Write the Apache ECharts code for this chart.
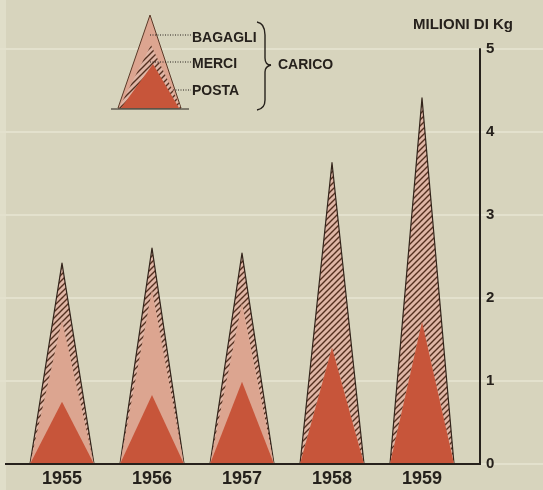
<!DOCTYPE html>
<html>
<head>
<meta charset="utf-8">
<script src="https://cdn.jsdelivr.net/npm/echarts@6/dist/echarts.min.js"></script>
<style>
html,body{margin:0;padding:0;background:#d7d4bd;}
#c{width:543px;height:490px;}
</style>
</head>
<body>
<div id="c"></div>
<script>
// ---- data (milioni di kg) ----
const years = ['1955', '1956', '1957', '1958', '1959'];
const posta = [0.75, 0.83, 0.99, 1.40, 1.71];
const bagagli = [0.98, 1.27, 0.95, 0.00, 0.00];
const merci = [0.69, 0.50, 0.60, 2.23, 2.70];
const yTicks = [0, 1, 2, 3, 4, 5];

const FONT = '"Liberation Sans", Arial, sans-serif';
const INK = '#26211c';
const BG = '#d7d4bd';
const RED = '#c7553a';
const PINK = '#dca590';
const TRI_W = 64;

// cumulative heights for nested triangles
const lvlRed = posta.slice();
const lvlPink = posta.map((v, i) => v + bagagli[i]);
const lvlTotal = posta.map((v, i) => v + bagagli[i] + merci[i]);

// hatch pattern
function hatch() {
  const s = 6;
  const cv = document.createElement('canvas');
  cv.width = s; cv.height = s;
  const g = cv.getContext('2d');
  g.fillStyle = '#dfb6a6';
  g.fillRect(0, 0, s, s);
  g.strokeStyle = '#54301f';
  g.lineWidth = 1.4;
  g.beginPath();
  g.moveTo(-1, s + 1); g.lineTo(s + 1, -1);
  g.moveTo(-1, 1); g.lineTo(1, -1);
  g.moveTo(s - 1, s + 1); g.lineTo(s + 1, s - 1);
  g.stroke();
  return cv;
}
const HATCH = { image: hatch(), repeat: 'repeat' };

const chart = echarts.init(document.getElementById('c'), null, { renderer: 'canvas' });

const tri = (name, data, color, z) => ({
  name: name,
  type: 'pictorialBar',
  xAxisIndex: 0, yAxisIndex: 0,
  symbol: 'triangle',
  symbolSize: [TRI_W, '100%'],
  barGap: '-100%',
  barCategoryGap: '0%',
  z: z,
  silent: true,
  itemStyle: { color: color },
  data: data
});

const option = {
  backgroundColor: BG,
  animation: false,
  grid: [
    { left: 17, right: 76, top: 49, bottom: 26 },
    { left: 0, right: 0, top: 49, bottom: 26 }
  ],
  xAxis: [
    {
      gridIndex: 0, type: 'category', data: years,
      axisLine: { show: false }, axisTick: { show: false },
      axisLabel: { margin: 6, color: INK, fontFamily: FONT, fontWeight: 'bold', fontSize: 18 }
    },
    { gridIndex: 1, type: 'value', show: false, min: 0, max: 1 }
  ],
  yAxis: [
    {
      gridIndex: 0, type: 'value', position: 'right', offset: 13,
      min: yTicks[0], max: yTicks[yTicks.length - 1], interval: 1,
      axisLine: { show: true, lineStyle: { color: INK, width: 2 } },
      axisTick: { show: false },
      splitLine: { show: false },
      axisLabel: { margin: 6, color: INK, fontFamily: FONT, fontWeight: 'bold', fontSize: 15 }
    },
    {
      gridIndex: 1, type: 'value', min: yTicks[0], max: yTicks[yTicks.length - 1], interval: 1,
      axisLine: { show: false }, axisTick: { show: false }, axisLabel: { show: false },
      splitLine: { show: true, lineStyle: { color: '#e3e1cd', width: 2 } }
    }
  ],
  series: [
    {
      name: 'MERCI',
      type: 'custom',
      xAxisIndex: 0, yAxisIndex: 0,
      z: 2, silent: true,
      data: lvlTotal.map((v, i) => [i, v]),
      renderItem: function (params, api) {
        const base = api.coord([api.value(0), 0]);
        const top = api.coord([api.value(0), api.value(1)]);
        return {
          type: 'polygon',
          shape: { points: [[base[0] - TRI_W / 2, base[1]], [top[0], top[1]], [base[0] + TRI_W / 2, base[1]]] },
          style: { fill: HATCH, stroke: '#33241b', lineWidth: 1.2, lineJoin: 'round' }
        };
      }
    },
    tri('BAGAGLI', lvlPink, PINK, 3),
    tri('POSTA', lvlRed, RED, 4)
  ]
};
chart.setOption(option);

// decorations: baseline, unit label, legend key
const y0 = chart.convertToPixel({ yAxisIndex: 0 }, 0);
const lbl = (text, x, y, size) => ({
  type: 'text', x: x, y: y, z: 20,
  style: { text: text, fill: INK, font: 'bold ' + size + 'px ' + FONT, textVerticalAlign: 'middle', textAlign: 'left' }
});
const dotted = (x1, y1, x2, y2) => ({
  type: 'line', z: 20,
  shape: { x1: x1, y1: y1, x2: x2, y2: y2 },
  style: { stroke: INK, lineWidth: 1, lineDash: [1, 1.5] }
});
const curve = (x1, y1, cpx1, cpy1, cpx2, cpy2, x2, y2) => ({
  type: 'bezierCurve', z: 20,
  shape: { x1: x1, y1: y1, cpx1: cpx1, cpy1: cpy1, cpx2: cpx2, cpy2: cpy2, x2: x2, y2: y2 },
  style: { fill: null, stroke: INK, lineWidth: 1.4 }
});
chart.setOption({
  graphic: [
    { type: 'rect', shape: { x: 0, y: 0, width: 6, height: 490 }, style: { fill: '#e0dec9' }, z: -1, silent: true },
    { type: 'line', z: 10, shape: { x1: 5, y1: y0, x2: 481, y2: y0 }, style: { stroke: INK, lineWidth: 1.8 } },
    lbl('MILIONI DI Kg', 413, 25, 15),
    // legend key triangle
    { type: 'polygon', z: 15, shape: { points: [[118, 108], [150, 15], [181, 108]] }, style: { fill: PINK, stroke: '#5a3a28', lineWidth: 1, lineJoin: 'round' } },
    { type: 'polygon', z: 16, shape: { points: [[119, 108], [151, 45], [181, 108]] }, style: { fill: HATCH } },
    { type: 'polygon', z: 17, shape: { points: [[121, 108], [153, 64], [179, 108]] }, style: { fill: RED } },
    { type: 'line', z: 18, shape: { x1: 111, y1: 109, x2: 189, y2: 109 }, style: { stroke: INK, lineWidth: 1.2 } },
    dotted(150, 35, 191, 35),
    dotted(150, 62, 191, 62),
    dotted(173, 90, 191, 90),
    lbl('BAGAGLI', 192, 38, 14),
    lbl('MERCI', 192, 64, 14),
    lbl('POSTA', 192, 91, 14),
    curve(257, 22, 263, 23, 265, 28, 265, 35),
    { type: 'line', z: 20, shape: { x1: 265, y1: 35, x2: 265, y2: 58 }, style: { stroke: INK, lineWidth: 1.4 } },
    curve(265, 58, 265, 62, 267, 65, 271, 65),
    curve(271, 65, 267, 66, 265, 68, 265, 72),
    { type: 'line', z: 20, shape: { x1: 265, y1: 72, x2: 265, y2: 100 }, style: { stroke: INK, lineWidth: 1.4 } },
    curve(265, 100, 265, 105, 263, 109, 257, 110),
    lbl('CARICO', 278, 65, 14)
  ]
});
</script>
</body>
</html>
